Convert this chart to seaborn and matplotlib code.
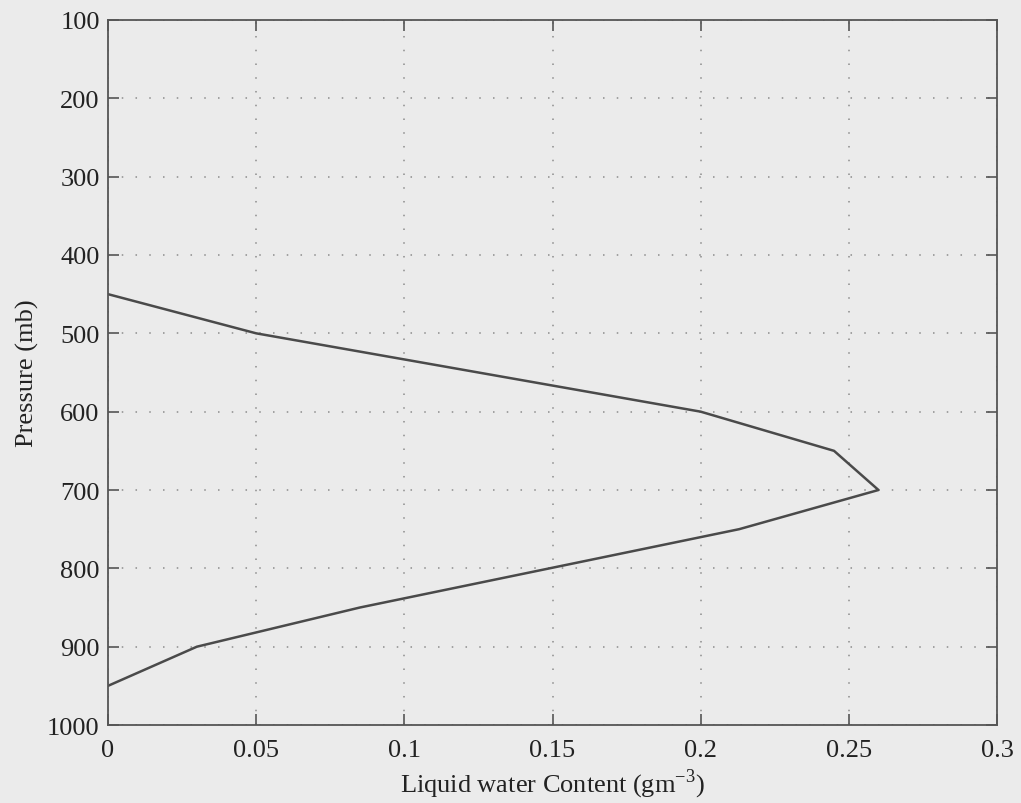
import matplotlib
matplotlib.use("Agg")
import matplotlib.pyplot as plt
import seaborn as sns
import pandas as pd

# Vertical profile of liquid water content
pressure = [450, 500, 600, 650, 700, 750, 800, 850, 900, 950]
lwc = [0.0, 0.05, 0.2, 0.245, 0.26, 0.213, 0.149, 0.085, 0.03, 0.0]

x_ticks = [0, 0.05, 0.1, 0.15, 0.2, 0.25, 0.3]
x_tick_labels = ["0", "0.05", "0.1", "0.15", "0.2", "0.25", "0.3"]
y_ticks = [100, 200, 300, 400, 500, 600, 700, 800, 900, 1000]

sns.set_style("ticks")
bg = "#ebebeb"
plt.rcParams["font.family"] = ["Liberation Serif", "DejaVu Serif"]
plt.rcParams["mathtext.fontset"] = "custom"
plt.rcParams["mathtext.rm"] = "Liberation Serif"

fig = plt.figure(figsize=(10.21, 8.04), dpi=100, facecolor=bg)
ax = fig.add_axes([0.1058, 0.097, 0.8707, 0.8769])
ax.set_facecolor(bg)

df = pd.DataFrame({"lwc": lwc, "pressure": pressure})
sns.lineplot(data=df, x="lwc", y="pressure", sort=False, estimator=None,
             color="#4a4a4a", linewidth=1.8, ax=ax)

ax.set_xlim(0, 0.3)
ax.set_ylim(1000, 100)
ax.set_xticks(x_ticks)
ax.set_xticklabels(x_tick_labels)
ax.set_yticks(y_ticks)

ax.grid(True, linestyle=(0, (1, 8)), color="#8c8c8c", linewidth=1.1)
for s in ax.spines.values():
    s.set_visible(True)
    s.set_color("#555555")
    s.set_linewidth(1.3)

ax.tick_params(direction="in", length=8, width=1.2, color="#555555",
               top=True, right=True, labelsize=19, labelcolor="#222222")
ax.tick_params(axis="x", pad=10)
ax.tick_params(axis="y", pad=6)

ax.set_xlabel(r"Liquid water Content (gm$^{-3}$)", fontsize=19, color="#222222", labelpad=4)
ax.set_ylabel("Pressure (mb)", fontsize=19, color="#222222", labelpad=6)

fig.savefig("out.png", dpi=100, facecolor=bg)
